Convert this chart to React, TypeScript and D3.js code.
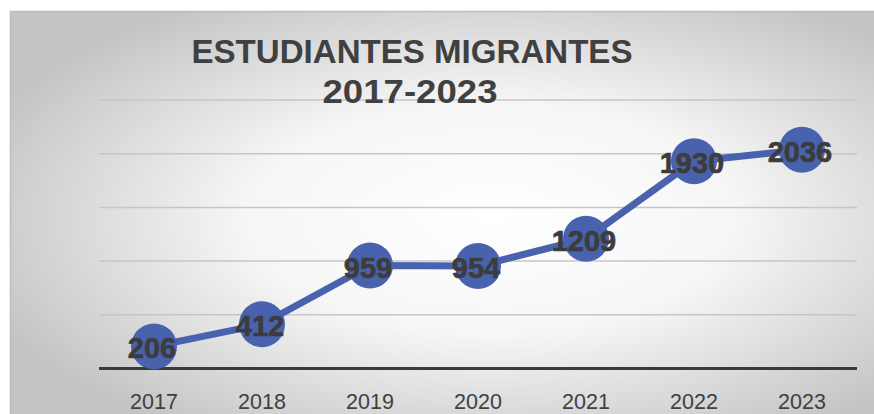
import React from 'react';
import * as d3 from 'd3';

const years = ['2017', '2018', '2019', '2020', '2021', '2022', '2023'];
const students = [206, 412, 959, 954, 1209, 1930, 2036];
const yTicks = [0, 500, 1000, 1500, 2000, 2500];
const titleLines = ['ESTUDIANTES MIGRANTES', '2017-2023'];

const W = 874;
const H = 414;

export default function App() {
  const margin = { top: 100, right: 18, bottom: 45.5, left: 100 };
  const x = d3.scaleBand()
    .domain(years)
    .range([margin.left, W - margin.right])
    .padding(0);
  const y = d3.scaleLinear()
    .domain([0, 2500])
    .range([H - margin.bottom, margin.top]);

  const cx = (d: string) => (x(d) || 0) + x.bandwidth() / 2;

  const line = d3.line<number>()
    .x((_, i) => cx(years[i]))
    .y(d => y(d));

  const labelFont = '"Liberation Sans", Arial, sans-serif';

  return (
    <svg width={W} height={H} style={{ position: 'absolute', left: 0, top: 0, display: 'block' }}>
      <defs>
        <radialGradient id="bg" cx="55%" cy="50%" r="62%" gradientUnits="objectBoundingBox">
          <stop offset="0%" stopColor="#ffffff" />
          <stop offset="45%" stopColor="#f6f6f6" />
          <stop offset="100%" stopColor="#c4c4c4" />
        </radialGradient>
      </defs>
      <rect x={0} y={0} width={W} height={H} fill="#ffffff" />
      <rect x={10.5} y={11.5} width={W} height={H} fill="url(#bg)" stroke="#bdbdbd" strokeWidth={1.5} />

      {/* gridlines */}
      {yTicks.filter(t => t > 0).map(t => (
        <line key={t} x1={margin.left - 1} x2={W - margin.right + 1} y1={y(t)} y2={y(t)}
          stroke="#c6c6c6" strokeWidth={1.5} />
      ))}
      {/* axis */}
      <line x1={margin.left - 1} x2={W - margin.right + 1} y1={y(0)} y2={y(0)} stroke="#3a3a3a" strokeWidth={3} />

      {/* title */}
      <text x={412} y={63} textAnchor="middle" fill="#404040"
        style={{ fontFamily: labelFont, fontWeight: 700, fontSize: 33 }}
        textLength={441} lengthAdjust="spacingAndGlyphs">{titleLines[0]}</text>
      <text x={410} y={103} textAnchor="middle" fill="#404040"
        style={{ fontFamily: labelFont, fontWeight: 700, fontSize: 33 }}
        textLength={175} lengthAdjust="spacingAndGlyphs">{titleLines[1]}</text>

      {/* line */}
      <path d={line(students) || ''} fill="none" stroke="#4862ad" strokeWidth={7} strokeLinejoin="round" />
      {students.map((v, i) => (
        <circle key={years[i]} cx={cx(years[i])} cy={y(v)} r={23} fill="#4862ad" />
      ))}
      {students.map((v, i) => (
        <text key={'l' + years[i]} x={cx(years[i]) - 2} y={y(v) + 2} textAnchor="middle" dominantBaseline="central"
          fill="#3c3c3c" stroke="#3c3c3c" strokeWidth={0.6}
          style={{ fontFamily: labelFont, fontWeight: 700, fontSize: 29 }}>{v}</text>
      ))}

      {/* x labels */}
      {years.map(d => (
        <text key={'x' + d} x={cx(d)} y={409} textAnchor="middle" fill="#404040"
          style={{ fontFamily: labelFont, fontSize: 21.5 }}>{d}</text>
      ))}
    </svg>
  );
}
